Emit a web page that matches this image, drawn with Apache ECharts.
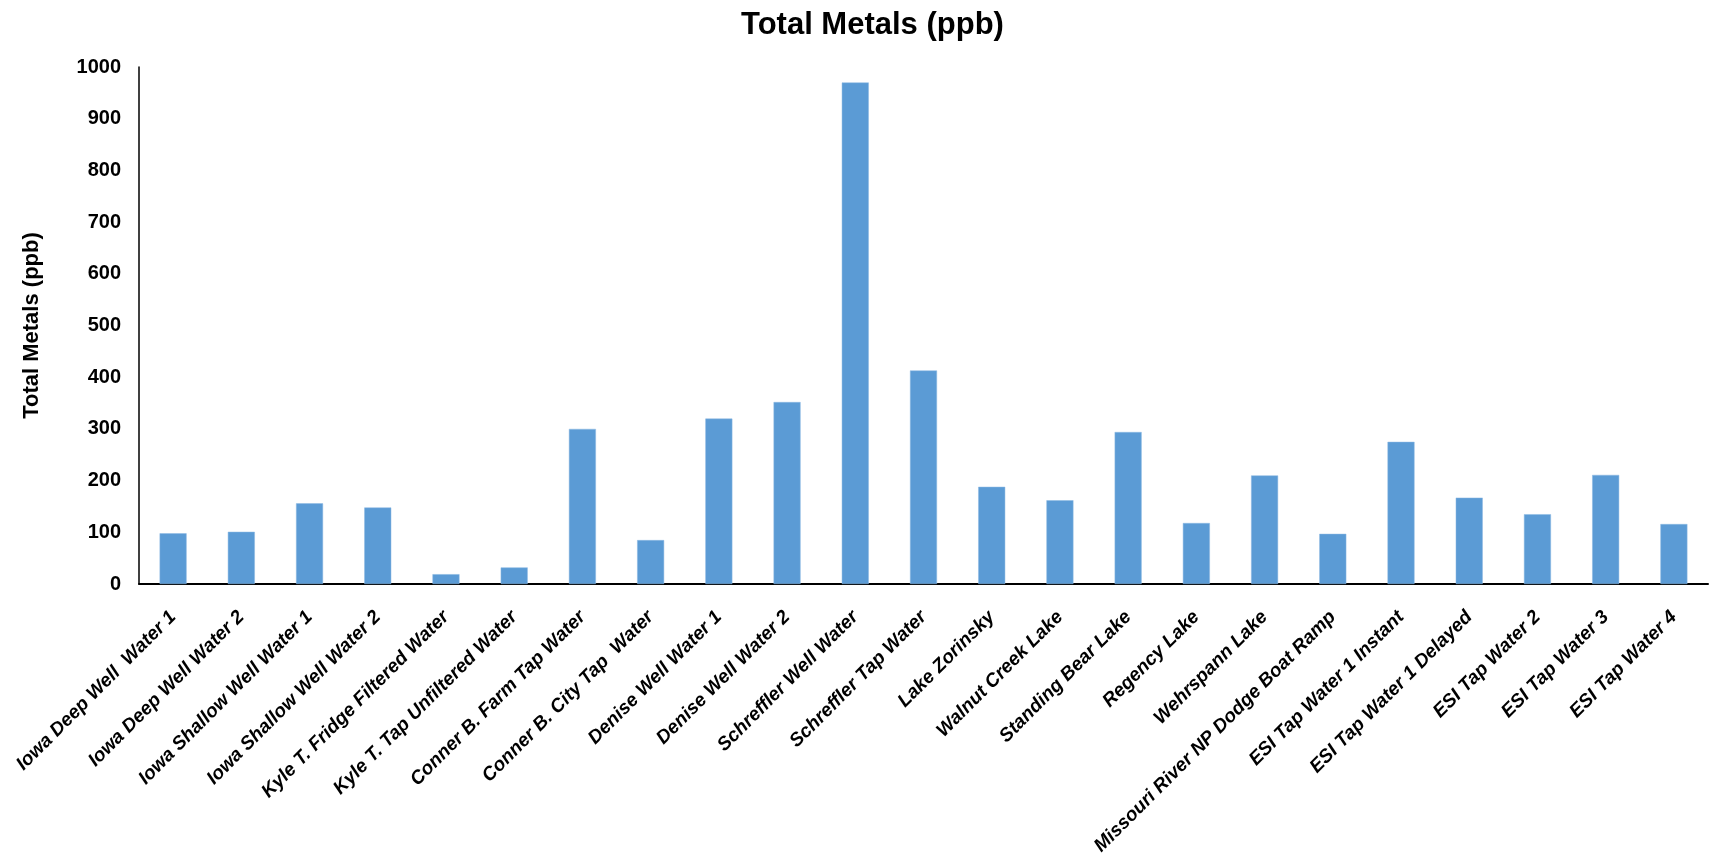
<!DOCTYPE html>
<html>
<head>
<meta charset="utf-8">
<script src="https://cdn.jsdelivr.net/npm/echarts@6/dist/echarts.min.js"></script>
<style>
html,body{margin:0;padding:0;background:#fff;}
#chart{width:1711px;height:858px;}
</style>
</head>
<body>
<div id="chart"></div>
<script>
const categories = [
  "Iowa Deep Well  Water 1",
  "Iowa Deep Well Water 2",
  "Iowa Shallow Well Water 1",
  "Iowa Shallow Well Water 2",
  "Kyle T. Fridge Filtered Water",
  "Kyle T. Tap Unfiltered Water",
  "Conner B. Farm Tap Water",
  "Conner B. City Tap  Water",
  "Denise Well Water 1",
  "Denise Well Water 2",
  "Schreffler Well Water",
  "Schreffler Tap Water",
  "Lake Zorinsky",
  "Walnut Creek Lake",
  "Standing Bear Lake",
  "Regency Lake",
  "Wehrspann Lake",
  "Missouri River NP Dodge Boat Ramp",
  "ESI Tap Water 1 Instant",
  "ESI Tap Water 1 Delayed",
  "ESI Tap Water 2",
  "ESI Tap Water 3",
  "ESI Tap Water 4"
];
const totalMetals = [98, 101, 156, 148, 19, 32, 300, 85, 320, 352, 970, 413, 188, 162, 294, 118, 210, 97, 275, 167, 135, 211, 116];
const yTicks = { min: 0, max: 1000, interval: 100 };
const titleText = "Total Metals (ppb)";
const yAxisName = "Total Metals (ppb)";

const FONT = "Liberation Sans, Arial, sans-serif";
const chart = echarts.init(document.getElementById('chart'), null, { renderer: 'canvas' });
chart.setOption({
  animation: false,
  backgroundColor: '#ffffff',
  title: {
    text: titleText,
    left: 736,
    top: 5,
    textStyle: { fontFamily: FONT, fontSize: 31, fontWeight: 'bold', color: '#000' }
  },
  grid: { left: 139, right: 3, top: 67, bottom: 271, containLabel: false },
  xAxis: {
    type: 'category',
    data: categories,
    axisLine: { show: true, lineStyle: { color: '#000', width: 2 } },
    axisTick: { show: false },
    axisLabel: {
      interval: 0,
      rotate: 45,
      margin: 30,
      fontFamily: FONT,
      fontSize: 19,
      fontWeight: 'bold',
      fontStyle: 'italic',
      color: '#000'
    },
    splitLine: { show: false }
  },
  yAxis: {
    type: 'value',
    min: yTicks.min,
    max: yTicks.max,
    interval: yTicks.interval,
    name: yAxisName,
    nameLocation: 'middle',
    nameRotate: 90,
    nameGap: 96,
    nameTextStyle: { fontFamily: FONT, fontSize: 22, fontWeight: 'bold', color: '#000' },
    axisLine: { show: true, lineStyle: { color: '#000', width: 1.5 } },
    axisTick: { show: false },
    axisLabel: {
      margin: 18, fontFamily: FONT, fontSize: 20, fontWeight: 'bold', color: '#000',
      formatter: function (v) { return String(v); }
    },
    splitLine: { show: false }
  },
  series: [{
    type: 'bar',
    data: totalMetals,
    barWidth: 27,
    itemStyle: { color: '#5B9BD5', borderColor: '#8DB8E3', borderWidth: 0.5 }
  }]
});
</script>
</body>
</html>
